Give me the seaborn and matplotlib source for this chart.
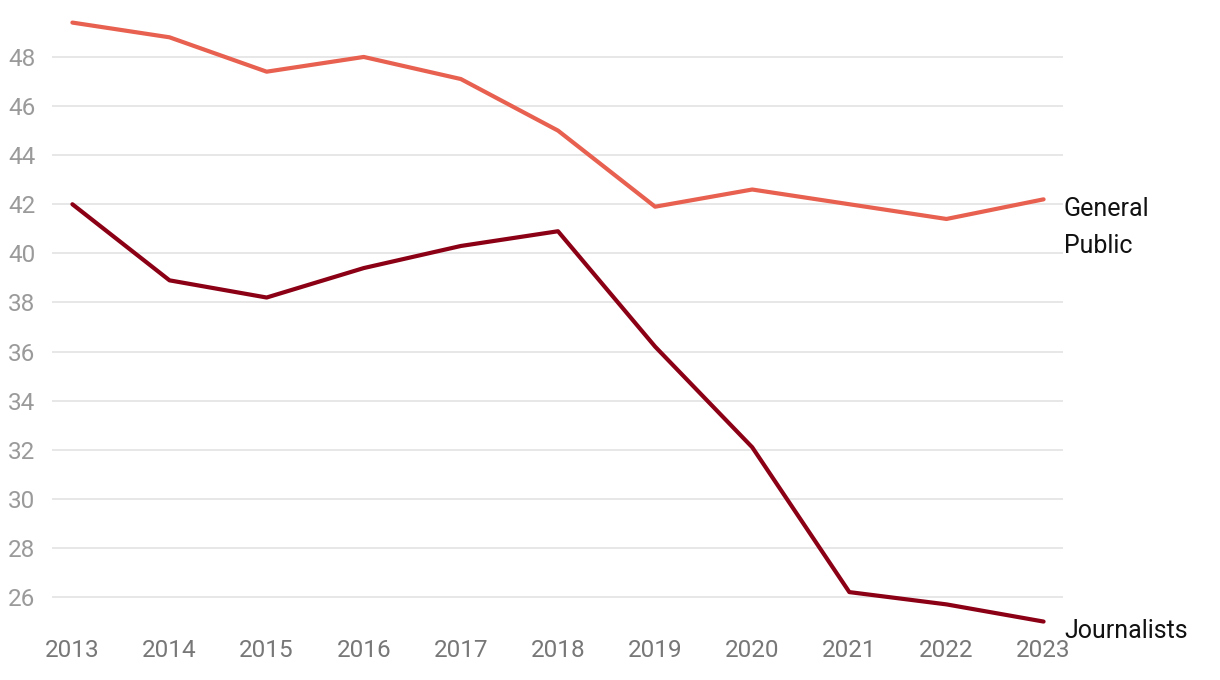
import matplotlib
matplotlib.use("Agg")
import matplotlib.pyplot as plt
import seaborn as sns
import pandas as pd

years = [2013, 2014, 2015, 2016, 2017, 2018, 2019, 2020, 2021, 2022, 2023]
general_public = [49.4, 48.8, 47.4, 48.0, 47.1, 45.0, 41.9, 42.6, 42.0, 41.4, 42.2]
journalists = [42.0, 38.9, 38.2, 39.4, 40.3, 40.9, 36.2, 32.1, 26.2, 25.7, 25.0]
series_names = ["General\nPublic", "Journalists"]
colors = ["#E8604F", "#8B0015"]
yticks = list(range(26, 50, 2))

df = pd.DataFrame({
    "year": years * 2,
    "value": general_public + journalists,
    "series": [series_names[0]] * len(years) + [series_names[1]] * len(years),
})

sns.set_theme(style="white")
plt.rcParams['font.family'] = ['Roboto', 'DejaVu Sans']

fig = plt.figure(figsize=(12.2, 6.8), dpi=100)
ax = fig.add_axes([52/1220, 1 - 625/680, (1063-52)/1220, 625/680])

sns.lineplot(data=df, x="year", y="value", hue="series", palette=colors,
             linewidth=3, ax=ax, legend=False)

ax.set_xlim(2012.79, 2023.2)
ax.set_ylim(24.86, 50.32)
ax.set_xticks(years)
ax.set_xticklabels([str(y) for y in years])
ax.set_yticks(yticks)
ax.set_yticklabels([str(y) for y in yticks])
ax.grid(axis="y", color="#e3e3e3", linewidth=1.2)
ax.grid(axis="x", visible=False)
for s in ax.spines.values():
    s.set_visible(False)
ax.tick_params(axis="y", length=0, pad=12, labelsize=17.5, labelcolor="#9a9a9a")
ax.tick_params(axis="x", length=0, pad=10, labelsize=17.5, labelcolor="#777777")
ax.set_xlabel("")
ax.set_ylabel("")

ax.text(2023.21, general_public[-1] - 1.15, series_names[0], fontsize=18, color="#111111",
        va="center", ha="left", linespacing=1.65)
ax.text(2023.21, journalists[-1] - 0.4, series_names[1], fontsize=18, color="#111111",
        va="center", ha="left")

fig.savefig("out.png", dpi=100)
